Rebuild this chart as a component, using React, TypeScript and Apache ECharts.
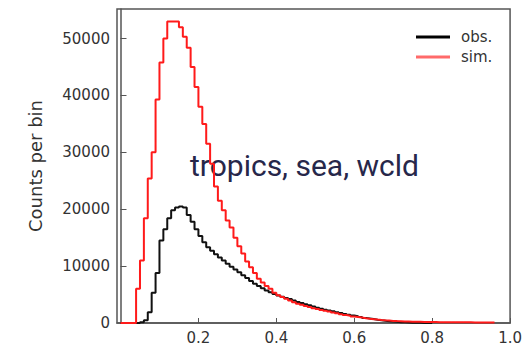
import React, { useEffect, useRef } from "react";
import * as echarts from "echarts";

// Histogram layout: bins of width 0.01 starting at 0
const BIN_START = 0;
const BIN_WIDTH = 0.01;

// obs. counts per bin (black)
const obsCounts = [
  0, 0, 0, 0, 0, 150, 500, 1900, 5300, 8800,
  14500, 16500, 18400, 19800, 20300, 20500, 20300, 19000, 17800, 16500,
  15300, 14200, 13300, 12700, 12100, 11500, 11000, 10400, 9900, 9400,
  8900, 8400, 7900, 7400, 6900, 6500, 6100, 5700, 5400, 5100,
  4850, 4600, 4400, 4200, 3950, 3700, 3500, 3300, 3100, 2900,
  2700, 2500, 2350, 2200, 2050, 1900, 1750, 1600, 1450, 1300,
  1200, 1050, 900, 800, 700, 580, 480, 400, 320, 250,
  200, 150, 110, 80, 60, 40, 30, 20, 0, 0,
];

// sim. counts per bin (red)
const simCounts = [
  0, 0, 0, 0, 6000, 11000, 18400, 25400, 30000, 39300,
  45800, 50000, 53000, 53000, 53000, 52000, 50300, 48400, 45000, 41500,
  38000, 35000, 31500, 28000, 24000, 21500, 19800, 18000, 16800, 15000,
  13500, 12200, 10800, 9800, 8800, 7800, 7100, 6500, 6000, 5300,
  4900, 4550, 4250, 3950, 3650, 3400, 3200, 3000, 2800, 2600,
  2450, 2300, 2150, 2000, 1850, 1700, 1550, 1400, 1280, 1150,
  1050, 950, 850, 760, 680, 600, 530, 470, 420, 370,
  330, 300, 270, 250, 230, 210, 200, 190, 180, 170,
  160, 150, 145, 140, 135, 130, 125, 120, 115, 110,
  105, 100, 95, 90, 85, 80,
];

const xTicks = [0.2, 0.4, 0.6, 0.8, 1.0];
const yTicks = [0, 10000, 20000, 30000, 40000, 50000];
const seriesNames = ["obs.", "sim."];
const annotation = "tropics, sea, wcld";
const yAxisTitle = "Counts per bin";

function toSteps(counts: number[]): number[][] {
  const pts: number[][] = [[BIN_START, 0]];
  counts.forEach((c, i) => {
    const x0 = BIN_START + i * BIN_WIDTH;
    pts.push([x0, c], [x0 + BIN_WIDTH, c]);
  });
  pts.push([BIN_START + counts.length * BIN_WIDTH, 0]);
  return pts;
}

export default function App() {
  const ref = useRef<HTMLDivElement>(null);
  useEffect(() => {
    if (!ref.current) return;
    const chart = echarts.init(ref.current, null, { renderer: "svg" });
    const axisColor = "#555";
    const labelFont = { fontFamily: "DejaVu Sans", fontSize: 15, color: "#333" };
    chart.setOption({
      animation: false,
      backgroundColor: "#fff",
      grid: {
        left: 117,
        right: 9,
        top: 9,
        bottom: 24,
        show: true,
        borderColor: axisColor,
        borderWidth: 1.5,
        backgroundColor: "transparent",
      },
      xAxis: {
        type: "value",
        min: -0.009,
        max: 1.0,
        axisLine: { show: true, lineStyle: { color: axisColor, width: 1.5 } },
        axisTick: {
          show: true,
          inside: true,
          length: 5,
          customValues: xTicks,
          lineStyle: { color: axisColor, width: 1 },
        },
        axisLabel: {
          ...labelFont,
          margin: 7,
          customValues: xTicks,
          formatter: (v: number) => v.toFixed(1),
        },
        splitLine: { show: false },
      },
      yAxis: {
        type: "value",
        min: 0,
        max: 55200,
        name: yAxisTitle,
        nameLocation: "middle",
        nameRotate: 90,
        nameGap: 73,
        nameTextStyle: { fontFamily: "DejaVu Sans", fontSize: 18, color: "#333" },
        axisLine: { show: true, lineStyle: { color: axisColor, width: 1.5 } },
        axisTick: {
          show: true,
          inside: true,
          length: 6,
          customValues: yTicks,
          lineStyle: { color: axisColor, width: 1 },
        },
        axisLabel: {
          ...labelFont,
          margin: 7,
          customValues: yTicks,
          formatter: (v: number) => String(v),
        },
        splitLine: { show: false },
      },
      legend: {
        orient: "vertical",
        left: 411,
        top: 24,
        icon: "rect",
        itemWidth: 34,
        itemHeight: 3,
        itemGap: 4,
        textStyle: { ...labelFont, lineHeight: 16, padding: [0, 0, 0, 6] },
        data: [
          { name: seriesNames[0], itemStyle: { color: "#000" } },
          { name: seriesNames[1], itemStyle: { color: "#ff6a6a" } },
        ],
      },
      graphic: [
        {
          type: "text",
          left: 190,
          top: 150,
          z: 0,
          style: {
            text: annotation,
            fontFamily: "Roboto",
            fontSize: 30,
            fill: "#27274a",
          },
        },
      ],
      series: [
        {
          name: seriesNames[0],
          type: "line",
          data: toSteps(obsCounts),
          showSymbol: false,
          symbol: "none",
          lineStyle: { color: "#111", width: 2 },
          itemStyle: { color: "#111" },
          z: 3,
        },
        {
          name: seriesNames[1],
          type: "line",
          data: toSteps(simCounts),
          showSymbol: false,
          symbol: "none",
          lineStyle: { color: "#ff1a1a", width: 2 },
          itemStyle: { color: "#ff1a1a" },
          z: 4,
        },
      ],
    });
    return () => chart.dispose();
  }, []);
  return (
    <div
      ref={ref}
      style={{ position: "fixed", left: 0, top: 0, width: 525, height: 347 }}
    />
  );
}
